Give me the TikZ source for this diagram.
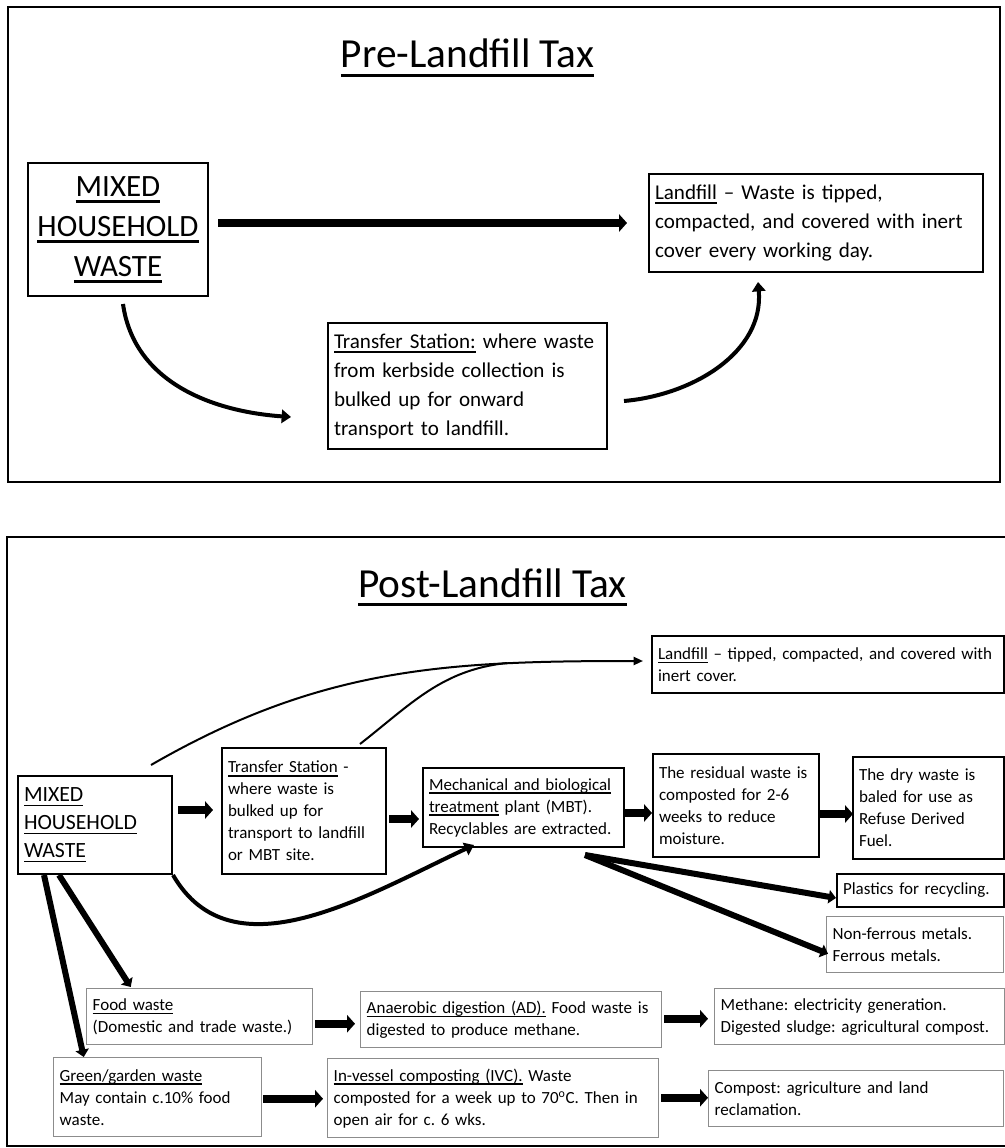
\documentclass[tikz,border=0pt]{standalone}
\usepackage{fontspec}
\setmainfont{Carlito}
\usepackage{tikz}
\usetikzlibrary{arrows.meta}
\newcommand{\ulin}[1]{\leavevmode\setbox0\hbox{#1}\rlap{\rule[-0.22em]{\wd0}{0.08em}}\box0\relax}
\frenchspacing

\begin{document}
\begin{tikzpicture}[x=0.75pt, y=-0.75pt,
  box/.style={draw, line width=1.5pt, inner xsep=4.5pt, inner ysep=1pt, align=left,
    anchor=north west, font=\fontsize{12.75}{16.5}\selectfont},
  graybox/.style={box, draw=black!45, line width=1.1pt},
  frame/.style={draw, line width=2pt},
  heading/.style={anchor=base, inner sep=0pt, font=\fontsize{31}{37}\selectfont},
  bigarrow/.style={line width=6pt, -{Triangle[length=6pt, width=13pt]}},
  diagarrow/.style={line width=4.5pt, -{Triangle[length=5.5pt, width=10pt]}},
  curvearrow/.style={line width=3pt, -{Triangle[length=7pt, width=10pt]}},
  thinarrow/.style={line width=1.5pt, -{Triangle[length=7pt, width=6pt]}}]
  \useasboundingbox (0,0) rectangle (1004,1148);
  \draw[frame] (8,7) rectangle (1000,482);
  \draw[frame] (7,537) rectangle (1012,1146);

  \node[heading] (preTitle) at (467.5,68) {\ulin{Pre-Landfill Tax}};
  \node[box, align=center, font=\fontsize{23.25}{30}\selectfont,
    minimum width=135pt, minimum height=99.75pt, text width=126pt] (preMixed) at (27,162)
    {\ulin{MIXED}\\\ulin{HOUSEHOLD}\\\ulin{WASTE}};
  \node[box, font=\fontsize{15.8}{21.75}\selectfont,
    minimum width=250.5pt, minimum height=73.5pt, text width=241.5pt] (preLandfill) at (648,173)
    {\ulin{Landfill} – Waste is tipped,\\compacted, and covered with inert\\cover every working day.};
  \node[box, font=\fontsize{15.8}{21.75}\selectfont,
    minimum width=209.25pt, minimum height=94.5pt, text width=200.25pt] (preTransfer) at (327,322)
    {\ulin{Transfer Station:} where waste\\from kerbside collection is\\bulked up for onward\\transport to landfill.};

  \draw[bigarrow] ([shift={(9,-6.5)}]preMixed.east) -- ([shift={(-21,0)}]preLandfill.west);
  \draw[curvearrow] ([shift={(5,7)}]preMixed.south) to[out=-82, in=176] ([shift={(-36,31)}]preTransfer.west);
  \draw[curvearrow] ([shift={(16,15)}]preTransfer.east) to[out=5, in=-85] ([shift={(-58,9)}]preLandfill.south);

  \node[heading] (postTitle) at (492.5,597) {\ulin{Post-Landfill Tax}};
  \node[box, minimum width=264pt, minimum height=42.75pt, text width=255pt] (postLandfill) at (651,635)
    {\ulin{Landfill} – tipped, compacted, and covered with\\inert cover.};
  \node[box, font=\fontsize{16.3}{21}\selectfont,
    minimum width=115.5pt, minimum height=73.5pt, text width=106.5pt] (postMixed) at (17,775)
    {\ulin{MIXED}\\\ulin{HOUSEHOLD}\\\ulin{WASTE}};
  \node[box, minimum width=123pt, minimum height=94.5pt, text width=114pt] (postTransfer) at (221,747)
    {\ulin{Transfer Station} -\\where waste is\\bulked up for\\transport to landfill\\or MBT site.};
  \node[box, minimum width=150.75pt, minimum height=59.25pt, text width=141.75pt] (mbt) at (422,767)
    {\ulin{Mechanical and biological}\\\ulin{treatment} plant (MBT).\\Recyclables are extracted.};
  \node[box, minimum width=124.5pt, minimum height=77.25pt, text width=115.5pt] (residual) at (652,753)
    {The residual waste is\\composted for 2-6\\weeks to reduce\\moisture.};
  \node[box, minimum width=113.25pt, minimum height=76.5pt, text width=104.25pt] (dryWaste) at (852,756)
    {The dry waste is\\baled for use as\\Refuse Derived\\Fuel.};
  \node[box, minimum width=125.25pt, minimum height=24.75pt, text width=116.25pt] (plastics) at (836,873)
    {Plastics for recycling.};
  \node[graybox, minimum width=132.75pt, minimum height=42pt, text width=123.75pt] (metals) at (826,916)
    {Non-ferrous metals.\\Ferrous metals.};
  \node[graybox, minimum width=169.5pt, minimum height=42pt, text width=160.5pt] (foodWaste) at (86,988)
    {\ulin{Food waste}\\(Domestic and trade waste.)};
  \node[graybox, minimum width=225.75pt, minimum height=42pt, text width=216.75pt] (digestion) at (360,991)
    {\ulin{Anaerobic digestion (AD).} Food waste is\\digested to produce methane.};
  \node[graybox, minimum width=217.5pt, minimum height=42pt, text width=208.5pt] (methane) at (714,988)
    {Methane: electricity generation.\\Digested sludge: agricultural compost.};
  \node[graybox, minimum width=156pt, minimum height=59.25pt, text width=147pt] (greenWaste) at (53,1057)
    {\ulin{Green/garden waste}\\May contain c.10\% food\\waste.};
  \node[graybox, minimum width=248.25pt, minimum height=59.25pt, text width=239.25pt] (ivc) at (327,1058)
    {\ulin{In-vessel composting (IVC).} Waste\\composted for a week up to 70\textsuperscript{o}C. Then in\\open air for c. 6 wks.};
  \node[graybox, minimum width=221.25pt, minimum height=42pt, text width=212.25pt] (compost) at (708,1070)
    {Compost: agriculture and land\\reclamation.};

  \draw[thinarrow] ([shift={(56,-10)}]postMixed.north) to[out=30, in=180] ([shift={(-8,-3.5)}]postLandfill.west);
  \draw[line width=1.5pt] ([shift={(56,-3)}]postTransfer.north) to[out=38, in=186] ([shift={(-144,-1.5)}]postLandfill.west);
  \draw[bigarrow] ([shift={(5,-15)}]postMixed.east) -- ([shift={(-8,-1)}]postTransfer.west);
  \draw[bigarrow] ([shift={(2,8)}]postTransfer.east) -- ([shift={(-3,11.5)}]mbt.west);
  \draw[bigarrow] ([shift={(0,5.5)}]mbt.east) -- ([shift={(0,7.5)}]residual.west);
  \draw[bigarrow] ([shift={(0,8.5)}]residual.east) -- ([shift={(1,6)}]dryWaste.west);
  \draw[curvearrow] (postMixed.south east) to[out=-60, in=-155] ([shift={(-49.5,-3)}]mbt.south);
  \draw[diagarrow] ([shift={(-40,7)}]mbt.south east) -- ([shift={(0,7.5)}]plastics.west);
  \draw[diagarrow] ([shift={(-40,7)}]mbt.south east) -- ([shift={(2,9)}]metals.west);
  \draw[diagarrow] ([shift={(-36,0)}]postMixed.south) -- ([shift={(-69,-1)}]foodWaste.north);
  \draw[diagarrow] ([shift={(-51,0)}]postMixed.south) -- ([shift={(-74,0)}]greenWaste.north);
  \draw[bigarrow] ([shift={(2,7)}]foodWaste.east) -- ([shift={(-5,4)}]digestion.west);
  \draw[bigarrow] ([shift={(2,-1)}]digestion.east) -- ([shift={(-6,2)}]methane.west);
  \draw[bigarrow] ([shift={(1,1.5)}]greenWaste.east) -- ([shift={(-4,0.5)}]ivc.west);
  \draw[bigarrow] ([shift={(2,-0.5)}]ivc.east) -- ([shift={(0,-1)}]compost.west);
\end{tikzpicture}
\end{document}
